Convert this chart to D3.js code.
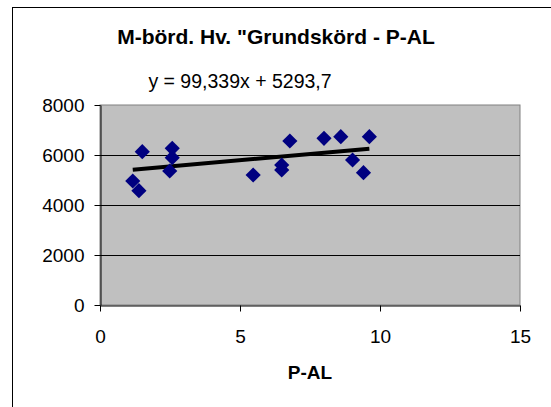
<!DOCTYPE html>
<html>
<head>
<meta charset="utf-8">
<script src="https://cdn.jsdelivr.net/npm/d3@7"></script>
<style>
  body { margin: 0; background: #fff; }
  svg { display: block; font-family: "Liberation Sans", Arial, sans-serif; }
</style>
</head>
<body>
<div id="chart"></div>
<script>
// P-AL values and harvest (Grundskörd)
let pal = [1.17, 1.39, 1.51, 2.49, 2.58, 2.58, 5.47, 6.49, 6.49, 6.78, 8.0, 8.6, 9.02, 9.41, 9.62];
let skord = [4960, 4573, 6133, 5360, 6267, 5893, 5200, 5600, 5400, 6560, 6667, 6733, 5800, 5293, 6733];
let xTicks = [0, 5, 10, 15];
let yTicks = [0, 2000, 4000, 6000, 8000];
let slope = 99.339, intercept = 5293.7;

let margin = {top: 105, right: 31, bottom: 102, left: 100};
let width = 551 - margin.left - margin.right;
let height = 407 - margin.top - margin.bottom;

let svg = d3.select("#chart").append("svg")
    .attr("width", 551)
    .attr("height", 407);

// outer chart frame
svg.append("rect")
    .attr("x", 12.5).attr("y", 7.5)
    .attr("width", 600).attr("height", 500)
    .attr("fill", "#fff")
    .attr("stroke", "#000")
    .attr("stroke-width", 1);

let g = svg.append("g")
    .attr("transform", "translate(" + margin.left + "," + margin.top + ")");

let x = d3.scaleLinear().domain([0, 15]).range([0, width]);
let y = d3.scaleLinear().domain([0, 8000]).range([height, 0]);

// plot area
g.append("rect")
    .attr("x", 0).attr("y", 0)
    .attr("width", width).attr("height", height)
    .attr("fill", "#c0c0c0")
    .attr("stroke", "#808080")
    .attr("stroke-width", 1);

// gridlines
g.selectAll(".grid")
    .data(yTicks.filter(d => d > 0 && d < 8000))
    .enter().append("line")
    .attr("x1", 0).attr("x2", width)
    .attr("y1", d => Math.round(y(d)) + 0.5)
    .attr("y2", d => Math.round(y(d)) + 0.5)
    .attr("stroke", "#000")
    .attr("stroke-width", 1);

// axes
let xAxis = g.append("g")
    .attr("transform", "translate(0," + (height + 0.5) + ")")
    .call(d3.axisBottom(x).tickValues(xTicks).tickFormat(d3.format("d"))
        .tickSize(6).tickPadding(18).tickSizeOuter(0));
let yAxis = g.append("g")
    .attr("transform", "translate(0.5,0)")
    .call(d3.axisLeft(y).tickValues(yTicks).tickFormat(d3.format("d"))
        .tickSize(6).tickPadding(10).tickSizeOuter(0));

[xAxis, yAxis].forEach(function (a) {
    a.attr("font-size", null).attr("font-family", null);
    a.selectAll("text")
        .attr("font-size", 19)
        .attr("fill", "#000");
    a.selectAll("line").attr("stroke", "#000");
    a.select(".domain").attr("stroke", "#000");
});
yAxis.selectAll("text").attr("dy", "0.35em");

// trend line over data range
let xr = d3.extent(pal);
g.append("path")
    .datum(xr)
    .attr("fill", "none")
    .attr("stroke", "#000")
    .attr("stroke-width", 4)
    .attr("d", d3.line()
        .x(function (d) { return x(d); })
        .y(function (d) { return y(slope * d + intercept); }));

// diamond markers
let diamond = d3.symbol().type(d3.symbolSquare).size(115);
g.selectAll(".pt")
    .data(pal.map((d, i) => ({x: d, y: skord[i]})))
    .enter().append("path")
    .attr("d", diamond)
    .attr("transform", d => "translate(" + x(d.x) + "," + y(d.y) + ") rotate(45)")
    .attr("fill", "#000080");

// texts
svg.append("text")
    .attr("x", 276).attr("y", 44)
    .attr("text-anchor", "middle")
    .attr("font-weight", "bold")
    .attr("font-size", 21)
    .text("M-börd. Hv. \"Grundskörd - P-AL");

svg.append("text")
    .attr("x", 240).attr("y", 88)
    .attr("text-anchor", "middle")
    .attr("font-size", 19.5)
    .text("y = 99,339x + 5293,7");

svg.append("text")
    .attr("x", margin.left + width / 2).attr("y", 379)
    .attr("text-anchor", "middle")
    .attr("font-weight", "bold")
    .attr("font-size", 19)
    .text("P-AL");
</script>
</body>
</html>
